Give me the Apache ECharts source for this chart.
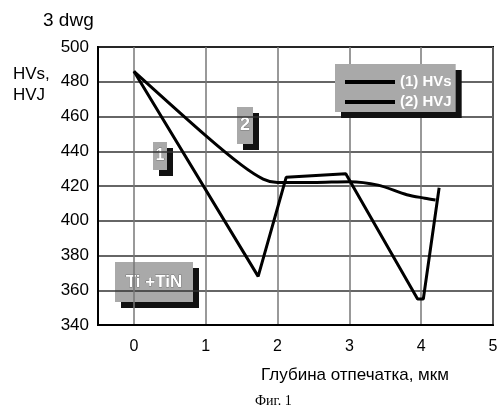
<!DOCTYPE html>
<html>
<head>
<meta charset="utf-8">
<script src="https://cdn.jsdelivr.net/npm/echarts@6/dist/echarts.min.js"></script>
<style>
  html, body { margin: 0; padding: 0; background: #fff; }
  #chart { width: 501px; height: 416px; }
</style>
</head>
<body>
<div id="chart"></div>
<script>
// Кривые твёрдости: глубина отпечатка (мкм) -> HV
const hvsDepth = [0, 1.73, 2.12, 2.95, 3.95, 4.03, 4.25];
const hvsValues = [486, 368, 425, 427, 355, 355, 419];

const hvjDepth = [0, 1, 1.5, 1.8, 2, 2.5, 3, 3.4, 3.8, 4.05, 4.2];
const hvjValues = [486, 449, 432, 424, 422, 422, 422.5, 420.5, 415, 413, 412];

const seriesNames = ['(1) HVs', '(2) HVJ'];

const hvsData = hvsDepth.map((d, i) => [d, hvsValues[i]]);
const hvjData = hvjDepth.map((d, i) => [d, hvjValues[i]]);

const chart = echarts.init(document.getElementById('chart'));

// плашка с тенью (как в исходном рисунке)
function plashka(x, y, w, h, text, size) {
    return {
        type: 'group',
        left: x, top: y,
        children: [
            { type: 'rect', shape: { x: 6, y: 6, width: w, height: h }, style: { fill: '#111' } },
            { type: 'rect', shape: { x: 0, y: 0, width: w, height: h }, style: { fill: '#a9a9a9' } },
            {
                type: 'text', x: w / 2, y: h / 2,
                style: {
                    text: text, fill: '#fff', stroke: '#444', lineWidth: 0.5,
                    font: 'bold ' + size + 'px "Liberation Sans Narrow", "Liberation Sans", sans-serif',
                    align: 'center', verticalAlign: 'middle'
                }
            }
        ]
    };
}

const option = {
    animation: false,
    backgroundColor: '#fff',
    grid: {
        left: 98, right: 8, top: 47, bottom: 91,
        show: true, borderColor: '#000', borderWidth: 2
    },
    legend: {
        left: 335, top: 64,
        orient: 'vertical',
        data: seriesNames,
        icon: 'rect',
        itemWidth: 50, itemHeight: 4,
        itemGap: 4,
        padding: [10, 4, 2, 10],
        backgroundColor: '#a9a9a9',
        shadowColor: '#111', shadowBlur: 0, shadowOffsetX: 6, shadowOffsetY: 6,
        textStyle: {
            color: '#fff', fontSize: 15, fontWeight: 'bold', lineHeight: 16,
            fontFamily: '"Liberation Sans Narrow", "Liberation Sans", sans-serif'
        }
    },
    xAxis: {
        type: 'value',
        min: -0.5, max: 5, interval: 0.5,
        axisLine: { onZero: false, lineStyle: { color: '#000', width: 2 } },
        axisTick: { show: false },
        axisLabel: {
            color: '#000', fontSize: 16, margin: 14,
            fontFamily: '"Liberation Sans", Arial, sans-serif',
            formatter: v => Number.isInteger(v) ? String(v) : ''
        },
        splitLine: { show: true, lineStyle: { color: ['transparent', '#777'], width: 1.5 } },
        name: 'Глубина отпечатка, мкм',
        nameLocation: 'middle',
        nameGap: 42,
        nameTextStyle: {
            color: '#000', fontSize: 17, padding: [0, 0, 0, 119],
            fontFamily: '"Liberation Sans Narrow", "Liberation Sans", sans-serif'
        }
    },
    yAxis: {
        type: 'value',
        min: 340, max: 500, interval: 20,
        axisLine: { show: true, onZero: false, lineStyle: { color: '#000', width: 2 } },
        axisTick: { show: false },
        axisLabel: {
            color: '#000', fontSize: 17, margin: 9,
            fontFamily: '"Liberation Sans", Arial, sans-serif'
        },
        splitLine: { lineStyle: { color: '#333', width: 1.5 } }
    },
    graphic: [
        {
            type: 'text', left: 43, top: 11,
            style: { text: '3 dwg', fill: '#000', font: '19px "Liberation Sans", Arial, sans-serif' }
        },
        {
            type: 'text', left: 13, top: 64,
            style: { text: 'HVs,\nHVJ', fill: '#000', lineHeight: 21, font: '17px "Liberation Sans", Arial, sans-serif' }
        },
        {
            type: 'text', left: 255, top: 394,
            style: { text: 'Фиг. 1', fill: '#000', font: '14px "Liberation Serif", "Times New Roman", serif' }
        },
        plashka(153, 142, 14, 28, '1', 16),
        plashka(237, 107, 16, 37, '2', 18),
        plashka(115, 262, 78, 40, 'Ti +TiN', 17)
    ],
    series: [
        {
            name: seriesNames[0],
            type: 'line',
            data: hvsData,
            showSymbol: false,
            lineStyle: { color: '#000', width: 3 },
            itemStyle: { color: '#000' }
        },
        {
            name: seriesNames[1],
            type: 'line',
            data: hvjData,
            smooth: 0.3,
            showSymbol: false,
            lineStyle: { color: '#000', width: 3 },
            itemStyle: { color: '#000' }
        }
    ]
};

chart.setOption(option);
</script>
</body>
</html>
